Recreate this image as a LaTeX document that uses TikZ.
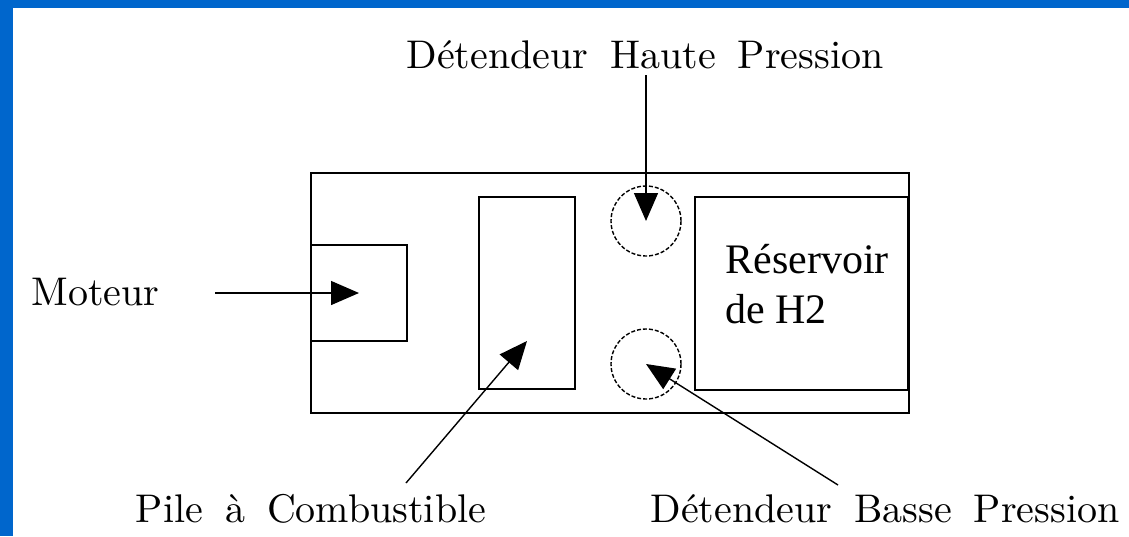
\documentclass[tikz,border=0pt]{standalone}
\usepackage{fontspec}
\newfontfamily\timesfont{Liberation Serif}
\newfontfamily\lmten{lmroman10-regular}[Extension=.otf]
\newcommand\lblfont{\lmten\fontsize{20}{24}\selectfont\spaceskip 11pt\relax}
\usetikzlibrary{arrows.meta}
\definecolor{frameblue}{RGB}{0,102,204}
\begin{document}
\begin{tikzpicture}[x=0.5pt,y=-0.5pt,
  box/.style={draw=black,line width=1pt,inner sep=0pt,anchor=north west},
  valve/.style={draw=black,circle,dashed,dash pattern=on 2pt off 1pt,line width=0.7pt,minimum size=35pt,inner sep=0pt},
  lbl/.style={font=\lblfont,inner sep=0pt},
  ptr/.style={line width=0.7pt,-{Triangle[length=14pt,width=12pt]}}]
\useasboundingbox (0,0) rectangle (1129,536);
\fill[frameblue] (0,0) rectangle (1129,536);
\fill[white] (13,8) rectangle (1129,536);
% boxes
\node[box,minimum width=299pt,minimum height=120pt] (outer) at (310,172) {};
\node[box,minimum width=48pt,minimum height=48pt] (moteur) at (310,244) {};
\node[box,minimum width=48pt,minimum height=96pt] (pile) at (478,196) {};
\node[box,minimum width=106.5pt,minimum height=96.5pt] (reservoir) at (694,196) {};
\node[valve] (hp) at (646,221) {};
\node[valve] (bp) at (646,364) {};
% reservoir text
\node[anchor=base west,inner sep=0pt,font=\timesfont\fontsize{21}{25}\selectfont] (restxt1) at (725,273) {Réservoir};
\node[anchor=base west,inner sep=0pt,font=\timesfont\fontsize{21}{25}\selectfont] (restxt2) at (725,323) {de H2};
% labels
\node[lbl,anchor=base] (lhp) at (645,68) {Détendeur Haute Pression};
\node[lbl,anchor=base west] (lmot) at (31,305) {Moteur};
\node[lbl,anchor=base] (lpile) at (311,522) {Pile à Combustible};
\node[lbl,anchor=base] (lbp) at (885,522) {Détendeur Basse Pression};
% pointer coordinates
\coordinate (smot) at (215,293);
\coordinate (spile) at (406,483);
\coordinate (tpile) at (527,341);
\coordinate (shp) at (646,75);
\coordinate (sbp) at (838,485);
\draw[ptr] (smot) -- (moteur.center);
\draw[ptr] (spile) -- (tpile);
\draw[ptr] (shp) -- (hp.center);
\draw[ptr] (sbp) -- (bp.center);
\end{tikzpicture}
\end{document}
